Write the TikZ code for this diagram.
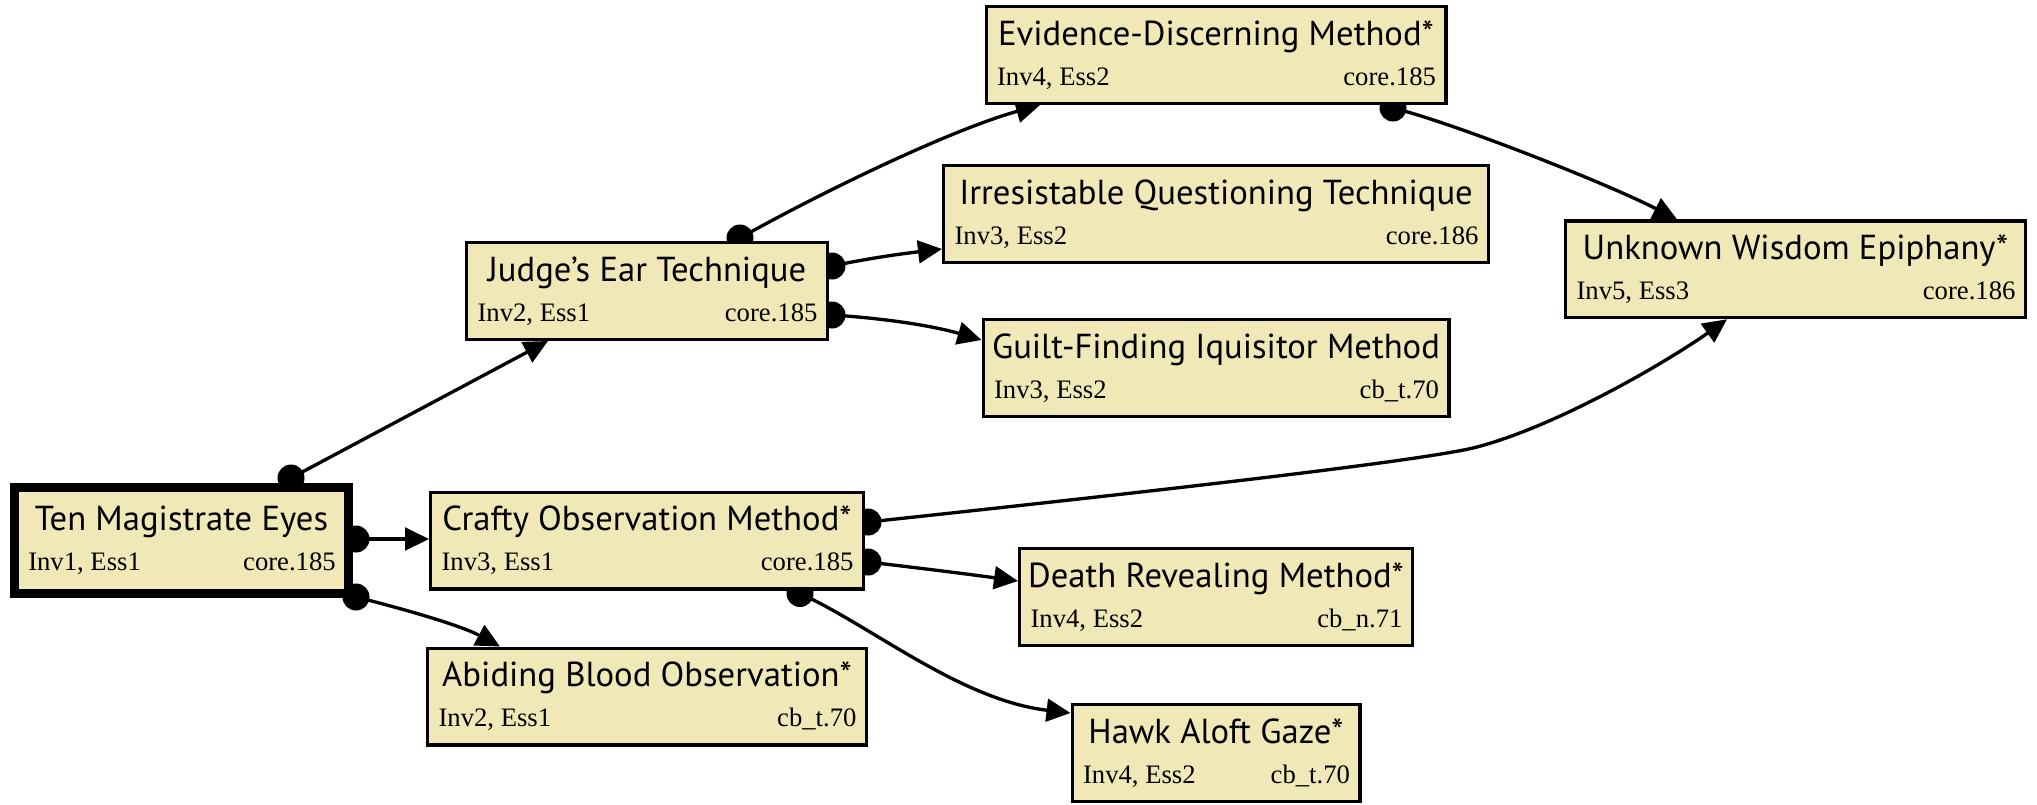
\documentclass[tikz,border=0pt]{standalone}
\usepackage{fontspec}
\setmainfont{Liberation Serif}
\newfontfamily\titlefamily{PT Sans}
\usetikzlibrary{arrows.meta,calc}

\definecolor{boxfill}{RGB}{240,232,183}

\pgfdeclarelayer{paper}
\pgfdeclarelayer{edges}
\pgfsetlayers{paper,edges,main}

\tikzset{
  box/.style={draw=black, fill=boxfill, rectangle, inner sep=0pt},
  ttl/.style={anchor=base, inner sep=0pt, font=\titlefamily\fontsize{26}{30}\selectfont},
  detl/.style={anchor=base west, inner sep=0pt, font=\fontsize{20}{23}\selectfont},
  detr/.style={anchor=base east, inner sep=0pt, font=\fontsize{20}{23}\selectfont},
  link/.style={line width=2.5pt, -{Triangle[length=18pt,width=17pt]}},
  tailspot/.style={fill=black}
}

% #1 name, #2 x, #3 y, #4 outer width, #5 outer height, #6 border (px),
% #7 title, #8 left detail, #9 right detail
\newcommand\skillbox[9]{%
  \node[box, line width={#6*0.75pt}, minimum width={(#4-#6)*0.75pt},
        minimum height={(#5-#6)*0.75pt}] (#1) at (#2,#3) {};
  \node[ttl] (#1-t) at ($(#1)+(0,-10)$) {#7};
  \node[detl] (#1-l) at ($(#1.west)+(#6+9,30)$) {#8};
  \node[detr] (#1-r) at ($(#1.east)+(-#6-8,30)$) {#9};
}

\begin{document}
\begin{tikzpicture}[x=0.75pt, y=-0.75pt]
\useasboundingbox (0,0) rectangle (2037,804);
\begin{pgfonlayer}{paper}
  \fill[white] (0,0) rectangle (2037,804);
\end{pgfonlayer}

% skill boxes
\skillbox{ten}{181.5}{540.5}{343}{115}{9}{Ten Magistrate Eyes}{Inv1, Ess1}{core.185}
\skillbox{judge}{647}{291}{364}{100}{3.3}{Judge’s Ear Technique}{Inv2, Ess1}{core.185}
\skillbox{evid}{1216}{55}{463}{100}{3.3}{Evidence-Discerning Method*}{Inv4, Ess2}{core.185}
\skillbox{irres}{1216}{214}{548}{100}{3.3}{Irresistable Questioning Technique}{Inv3, Ess2}{core.186}
\skillbox{guilt}{1216}{368}{469}{100}{3.3}{Guilt-Finding Iquisitor Method}{Inv3, Ess2}{cb\_t.70}
\skillbox{unknown}{1795.5}{269.3}{463}{100}{3.3}{Unknown Wisdom Epiphany*}{Inv5, Ess3}{core.186}
\skillbox{crafty}{647}{540.5}{436}{100}{3.3}{Crafty Observation Method*}{Inv3, Ess1}{core.185}
\skillbox{death}{1216}{597}{396}{100}{3.3}{Death Revealing Method*}{Inv4, Ess2}{cb\_n.71}
\skillbox{abiding}{647}{696.5}{442}{100}{3.3}{Abiding Blood Observation*}{Inv2, Ess1}{cb\_t.70}
\skillbox{hawk}{1216}{753}{291}{100}{3.3}{Hawk Aloft Gaze*}{Inv4, Ess2}{cb\_t.70}

% prerequisite links, drawn beneath the boxes
\begin{pgfonlayer}{edges}
  \coordinate (t1) at ($(ten)+(109.5,-62.5)$);
  \coordinate (h1) at ($(judge)+(-99,50)$);
  \coordinate (t2) at ($(judge)+(93,-53)$);
  \coordinate (h2) at ($(evid)+(-176,50)$);
  \coordinate (t3) at ($(judge)+(185,-25)$);
  \coordinate (h3) at ($(irres)+(-274,35)$);
  \coordinate (t4) at ($(judge)+(185,24)$);
  \coordinate (h4) at ($(guilt)+(-234.5,-28)$);
  \coordinate (t5) at ($(ten)+(174.5,-1.5)$);
  \coordinate (h5) at ($(crafty)+(-218,-1.5)$);
  \coordinate (t6) at ($(ten)+(174.5,56.5)$);
  \coordinate (h6) at ($(abiding)+(-147,-50)$);
  \coordinate (t7) at ($(crafty)+(221,-18.5)$);
  \coordinate (m7) at (1477,447);
  \coordinate (h7) at ($(unknown)+(-68.5,50)$);
  \coordinate (t8) at ($(crafty)+(221,21.5)$);
  \coordinate (h8) at ($(death)+(-198,-16)$);
  \coordinate (t9) at ($(crafty)+(153,53)$);
  \coordinate (h9) at ($(hawk)+(-145.5,-40)$);
  \coordinate (t10) at ($(evid)+(177,53)$);
  \coordinate (h10) at ($(unknown)+(-118.5,-50)$);

  \draw[link] (t1) -- (h1);
  \draw[link] (t2) .. controls +(80,-45) and +(-90,25) .. (h2);
  \draw[link] (t3) .. controls +(38,-8) and +(-42,5) .. (h3);
  \draw[link] (t4) .. controls +(48,3) and +(-51.5,-15) .. (h4);
  \draw[link] (t5) -- (h5);
  \draw[link] (t6) .. controls +(44,11) and +(-40,-21.5) .. (h6);
  \draw[link] (t7) .. controls +(232,-25) and +(-57,15) .. (m7)
                   .. controls +(83,-22) and +(-57,40.5) .. (h7);
  \draw[link] (t8) .. controls +(42,5) and +(-58,-8) .. (h8);
  \draw[link] (t9) .. controls +(70,31.5) and +(-110.5,-13) .. (h9);
  \draw[link] (t10) .. controls +(57,14) and +(-77,-39) .. (h10);

  \foreach \p in {t1,t2,t3,t4,t5,t6,t7,t8,t9,t10}
    \fill[tailspot] (\p) circle[radius=13.5];
\end{pgfonlayer}
\end{tikzpicture}
\end{document}
